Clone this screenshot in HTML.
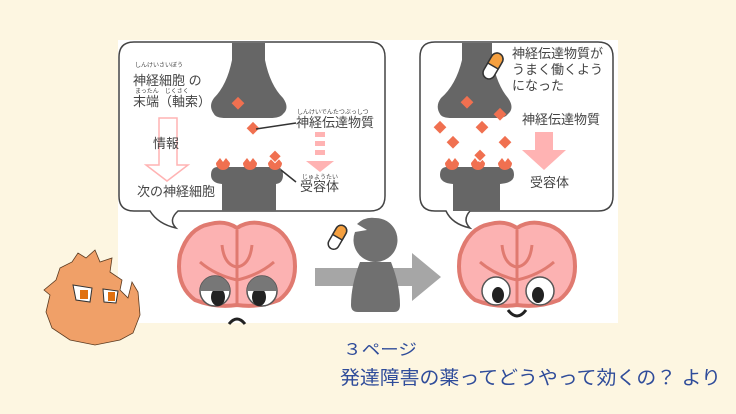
<!DOCTYPE html>
<html><head><meta charset="utf-8"><style>
html,body{margin:0;padding:0;background:#fdf6e1;}
svg{display:block;font-family:"Liberation Sans","Noto Sans CJK JP",sans-serif;}
</style></head><body>
<svg width="736" height="414" viewBox="0 0 736 414" xmlns="http://www.w3.org/2000/svg">
<rect width="736" height="414" fill="#fdf6e1"/>
<rect x="118" y="40" width="500" height="283" fill="#fff"/>
<!-- left bubble -->
<path d="M134 42 H370 Q385 42 385 57 V196 Q385 211 370 211 H178 Q168 220 176 228 Q158 224 150 211 H134 Q119 211 119 196 V57 Q119 42 134 42Z" fill="#fff" stroke="#444" stroke-width="1.5"/>
<!-- right bubble -->
<path d="M435 42 H598 Q613 42 613 57 V196 Q613 211 598 211 H470 Q462 220 470 228 Q452 224 446 211 H435 Q420 211 420 196 V57 Q420 42 435 42Z" fill="#fff" stroke="#444" stroke-width="1.5"/>
<!-- left neurons -->
<path d="M232 43 H265 V60 Q270 85 283 98 Q290 108 283 114 Q280 118 270 118 H226 Q216 118 214 114 Q208 106 214 98 Q227 85 232 60Z" fill="#666"/>
<path d="M218 167 H276 Q283 167 283 175 Q283 183 276 184 V211 H222 V184 Q211 183 211 175 Q211 167 218 167Z" fill="#666"/>
<g fill="#f07050">
<path d="M216 163 a7 7 0 1 0 14 0 l-4 -5 l-3 4 l-3 -4z"/>
<path d="M243 163 a7 7 0 1 0 14 0 l-4 -5 l-3 4 l-3 -4z"/>
<path d="M268 163 a7 7 0 1 0 14 0 l-4 -5 l-3 4 l-3 -4z"/>
<rect x="233" y="99" width="9" height="9" transform="rotate(45 238 104)"/>
<rect x="248" y="124" width="9" height="9" transform="rotate(45 253 129)"/>
<rect x="270" y="152" width="9" height="9" transform="rotate(45 275 157)" stroke="#fff" stroke-width="1"/>
</g>
<line x1="256" y1="129" x2="296" y2="123" stroke="#333" stroke-width="1.5"/>
<line x1="281" y1="170" x2="296" y2="182" stroke="#333" stroke-width="1.5"/>
<g fill="#ffb3b3">
<rect x="315" y="132" width="10" height="5"/><rect x="315" y="141" width="10" height="5"/><rect x="315" y="150" width="10" height="5"/>
<path d="M306 161 H334 L320 172Z"/>
</g>
<path d="M159 118 H177 V165 H188 L167 181 L146 165 H159Z" fill="none" stroke="#ffb3b3" stroke-width="1.5"/>
<g fill="#444">
<text x="135" y="67" font-size="6">しんけいさいぼう</text>
<text x="133" y="85" font-size="13">神経細胞 の</text>
<text x="135" y="93" font-size="6">まったん　じくさく</text>
<text x="133" y="106" font-size="13">末端（軸索）</text>
<text x="153" y="148" font-size="13">情報</text>
<text x="137" y="196" font-size="13">次の神経細胞</text>
<text x="297" y="114" font-size="6">しんけいでんたつぶっしつ</text>
<text x="296" y="127" font-size="13">神経伝達物質</text>
<text x="302" y="179" font-size="6">じゅようたい</text>
<text x="300" y="191" font-size="13">受容体</text>
<text x="512" y="58" font-size="13">神経伝達物質が</text>
<text x="512" y="74" font-size="13">うまく働くよう</text>
<text x="512" y="90" font-size="13">になった</text>
<text x="522" y="124" font-size="13">神経伝達物質</text>
<text x="530" y="187" font-size="13">受容体</text>
</g>
<!-- right neurons -->
<path d="M462 43 H492 V60 Q497 85 508 98 Q515 108 508 114 Q505 118 498 118 H452 Q442 118 440 114 Q435 106 441 98 Q456 85 462 60Z" fill="#666"/>
<path d="M447 167 H507 Q514 167 514 175 Q514 183 500 184 V211 H453 V184 Q440 183 440 175 Q440 167 447 167Z" fill="#666"/>
<g fill="#f07050">
<path d="M445 163 a7 7 0 1 0 14 0 l-4 -5 l-3 4 l-3 -4z"/>
<path d="M471 163 a7 7 0 1 0 14 0 l-4 -5 l-3 4 l-3 -4z"/>
<path d="M498 163 a7 7 0 1 0 14 0 l-4 -5 l-3 4 l-3 -4z"/>
<rect x="462" y="98" width="9" height="9" transform="rotate(45 467 103)"/>
<rect x="495" y="110" width="9" height="9" transform="rotate(45 500 115)"/>
<rect x="435" y="123" width="9" height="9" transform="rotate(45 440 128)"/>
<rect x="477" y="123" width="9" height="9" transform="rotate(45 482 128)"/>
<rect x="448" y="138" width="9" height="9" transform="rotate(45 453 143)"/>
<rect x="500" y="138" width="9" height="9" transform="rotate(45 505 143)"/>
<rect x="475" y="151" width="9" height="9" transform="rotate(45 480 156)" stroke="#fff" stroke-width="1"/>
</g>
<path d="M535 132 H553 V150 H566 L544 170 L522 150 H535Z" fill="#ffb3b3"/>
<g transform="rotate(30 493 66)"><rect x="487" y="52" width="12" height="28" rx="6" fill="#fff" stroke="#333" stroke-width="1.5"/><path d="M487 66 V58 a6 6 0 0 1 12 0 V66Z" fill="#f5a040" stroke="#333" stroke-width="1.5"/></g>
<!-- left brain -->
<g stroke="#e07a70" stroke-width="4" fill="#fcb2b2">
<path d="M237 228 Q225 220 210 224 Q188 228 180 255 Q175 285 195 300 Q215 308 237 305 Q259 308 279 300 Q299 285 294 255 Q286 228 264 224 Q249 220 237 228Z"/>
<path d="M237 230 V305 M222 245 Q224 265 237 267 Q250 265 252 245 M200 262 Q215 275 237 280 Q259 275 274 262" fill="none" stroke-width="3"/>
</g>
<circle cx="215" cy="291" r="15" fill="#fff" stroke="#555" stroke-width="1.5"/>
<circle cx="262" cy="291" r="15" fill="#fff" stroke="#555" stroke-width="1.5"/>
<ellipse cx="218" cy="297" rx="7" ry="9" fill="#222"/><ellipse cx="259" cy="297" rx="7" ry="9" fill="#222"/>
<path d="M200 291 A15 15 0 0 1 230 291 Z" fill="#777"/><path d="M247 291 A15 15 0 0 1 277 291 Z" fill="#777"/>
<path d="M229 324 Q237 314 245 324" fill="none" stroke="#222" stroke-width="3"/>
<!-- right brain -->
<g stroke="#e07a70" stroke-width="4" fill="#fcb2b2">
<path d="M517 228 Q505 220 490 224 Q468 228 460 255 Q455 285 475 300 Q495 308 517 305 Q539 308 559 300 Q579 285 574 255 Q566 228 544 224 Q529 220 517 228Z"/>
<path d="M517 230 V305 M502 245 Q504 265 517 267 Q530 265 532 245 M480 262 Q495 275 517 280 Q539 275 554 262" fill="none" stroke-width="3"/>
</g>
<circle cx="496" cy="291" r="14" fill="#fff" stroke="#555" stroke-width="1.5"/>
<circle cx="540" cy="291" r="14" fill="#fff" stroke="#555" stroke-width="1.5"/>
<ellipse cx="498" cy="295" rx="6" ry="8" fill="#222"/><ellipse cx="538" cy="295" rx="6" ry="8" fill="#222"/>
<path d="M508 310 Q517 322 526 310" fill="none" stroke="#222" stroke-width="3"/>
<!-- arrow + person -->
<path d="M315 268 H412 V253 L441 277 L412 301 V286 H315Z" fill="#a6a6a6"/>
<path d="M360 262 Q351 285 351 305 Q351 312 358 312 H394 Q400 312 400 305 Q400 285 391 262Z" fill="#707070"/>
<path d="M375 218 a22 22 0 1 1 -20 14 l12 -2 l-10 -6 a22 22 0 0 1 18 -6z" fill="#707070"/>
<g transform="rotate(30 337 237)"><rect x="332" y="224" width="11" height="26" rx="5.5" fill="#fff" stroke="#333" stroke-width="1.5"/><path d="M332 237 V229.5 a5.5 5.5 0 0 1 11 0 V237Z" fill="#f5a040" stroke="#333" stroke-width="1.5"/></g>
<!-- character -->
<path d="M60 268 L72 262 L78 253 L86 258 L95 250 L100 262 L112 258 L110 272 L122 280 L120 290 L128 298 L132 282 L138 292 L140 315 L133 333 L120 340 L95 345 L70 340 L52 328 L46 312 L50 295 L44 290 L56 280Z" fill="#f0a068" stroke="#5a3a20" stroke-width="0.8"/>
<path d="M73 285 L92 288 L90 302 L76 300Z" fill="#fff" stroke="#333"/>
<path d="M103 289 L118 291 L116 303 L104 302Z" fill="#fff" stroke="#333"/>
<rect x="80" y="290" width="8" height="9" fill="#e07010"/><rect x="108" y="292" width="7" height="9" fill="#e07010"/>
<!-- captions -->
<text x="343" y="355" font-size="16" fill="#2f4c9a" textLength="74" lengthAdjust="spacingAndGlyphs">３ページ</text>
<text x="340" y="384" font-size="19" fill="#2f4c9a" textLength="381" lengthAdjust="spacingAndGlyphs">発達障害の薬ってどうやって効くの？ より</text>
</svg>
</body></html>
